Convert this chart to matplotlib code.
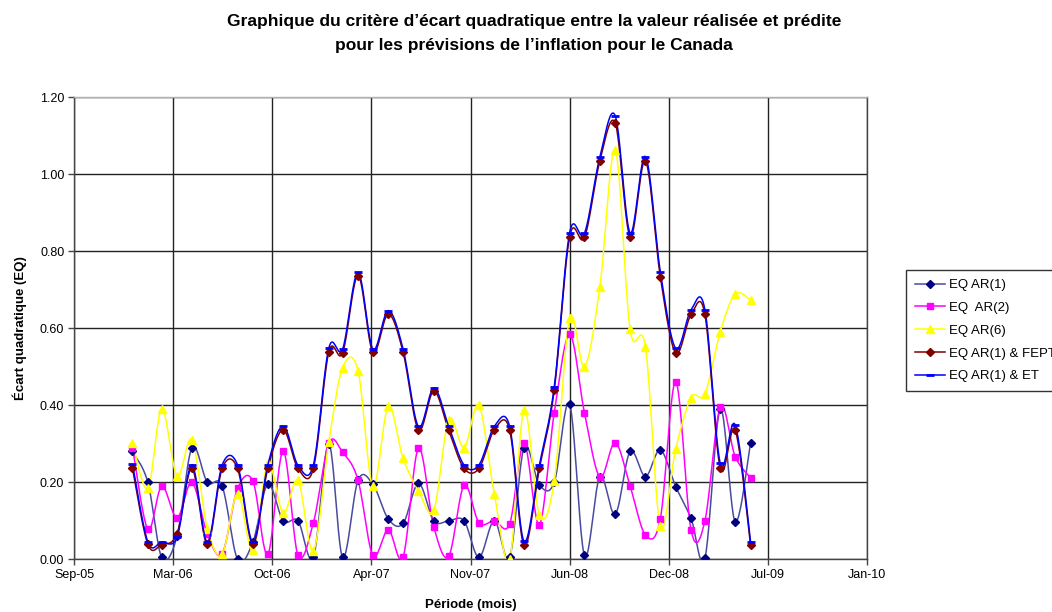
import numpy as np
import pandas as pd
import matplotlib
matplotlib.use("Agg")
import matplotlib.pyplot as plt
import matplotlib.dates as mdates
from matplotlib.lines import Line2D

plt.rcParams['font.family'] = ['Liberation Sans', 'DejaVu Sans']

# ---- data ----
months = pd.date_range('2006-01-01', periods=42, freq='MS')

eq_ar1 = [0.28, 0.20, 0.005, 0.06, 0.29, 0.20, 0.19, 0.00, 0.045, 0.195,
          0.10, 0.10, 0.005, 0.30, 0.005, 0.205, 0.195, 0.105, 0.093, 0.197,
          0.10, 0.10, 0.10, 0.005, 0.10, 0.005, 0.29, 0.193, 0.20, 0.403,
          0.01, 0.215, 0.117, 0.28, 0.215, 0.284, 0.189, 0.106, 0.003, 0.39,
          0.098, 0.303]
eq_ar2 = [0.29, 0.078, 0.19, 0.108, 0.20, 0.066, 0.015, 0.184, 0.203, 0.013,
          0.281, 0.01, 0.095, 0.301, 0.278, 0.206, 0.01, 0.077, 0.006, 0.288,
          0.084, 0.008, 0.192, 0.095, 0.10, 0.092, 0.302, 0.09, 0.381, 0.584,
          0.38, 0.214, 0.303, 0.19, 0.063, 0.105, 0.461, 0.076, 0.10, 0.396,
          0.267, 0.212]
eq_ar6 = [0.303, 0.184, 0.39, 0.216, 0.31, 0.08, 0.014, 0.17, 0.024, 0.25,
          0.12, 0.205, 0.022, 0.305, 0.498, 0.49, 0.19, 0.397, 0.262, 0.178,
          0.129, 0.363, 0.29, 0.40, 0.17, 0.0, 0.388, 0.115, 0.203, 0.626,
          0.50, 0.708, 1.063, 0.597, 0.551, 0.086, 0.286, 0.42, 0.43, 0.591,
          0.689, 0.673]
eq_fept = [0.236, 0.039, 0.038, 0.067, 0.236, 0.039, 0.236, 0.236, 0.039, 0.236,
           0.336, 0.236, 0.236, 0.538, 0.536, 0.737, 0.538, 0.637, 0.538, 0.336,
           0.437, 0.335, 0.236, 0.236, 0.336, 0.336, 0.037, 0.236, 0.44, 0.838,
           0.836, 1.035, 1.133, 0.838, 1.035, 0.734, 0.536, 0.636, 0.636, 0.236,
           0.336, 0.037]
eq_et = [0.247, 0.045, 0.045, 0.058, 0.245, 0.045, 0.245, 0.245, 0.045, 0.245,
         0.346, 0.244, 0.245, 0.548, 0.546, 0.745, 0.546, 0.646, 0.546, 0.345,
         0.445, 0.345, 0.245, 0.245, 0.345, 0.345, 0.047, 0.245, 0.448, 0.848,
         0.847, 1.045, 1.152, 0.848, 1.046, 0.747, 0.548, 0.648, 0.648, 0.249,
         0.349, 0.046]

labels = ['EQ AR(1)', 'EQ  AR(2)', 'EQ AR(6)', 'EQ AR(1) & FEPT', 'EQ AR(1) & ET']
title = ("Graphique du critère d\u2019écart quadratique entre la valeur réalisée et prédite\n"
         "pour les prévisions de l\u2019inflation pour le Canada")

# ---- helpers ----
def smooth(x, y, n=24):
    x = np.asarray(x, float); y = np.asarray(y, float)
    px = np.concatenate([[x[0]], x, [x[-1]]])
    py = np.concatenate([[y[0]], y, [y[-1]]])
    xs, ys = [], []
    t = np.linspace(0, 1, n)
    for i in range(1, len(px) - 2):
        p0x, p1x, p2x, p3x = px[i-1], px[i], px[i+1], px[i+2]
        p0y, p1y, p2y, p3y = py[i-1], py[i], py[i+1], py[i+2]
        c1x = p1x + (p2x - p0x) / 6; c1y = p1y + (p2y - p0y) / 6
        c2x = p2x - (p3x - p1x) / 6; c2y = p2y - (p3y - p1y) / 6
        bx = (1-t)**3*p1x + 3*(1-t)**2*t*c1x + 3*(1-t)*t**2*c2x + t**3*p2x
        by = (1-t)**3*p1y + 3*(1-t)**2*t*c1y + 3*(1-t)*t**2*c2y + t**3*p2y
        xs.append(bx); ys.append(by)
    return np.concatenate(xs), np.concatenate(ys)

fig = plt.figure(figsize=(10.52, 6.12), dpi=100)
ax = fig.add_axes([74/1052, 1-559.3/612, 793/1052, 462/612])

xn = mdates.date2num(months.to_pydatetime())

series = [
    (eq_ar1, '#000080', '#4a4aa0', 'D', 4.5, 2),
    (eq_ar2, '#FF00FF', '#FF00FF', 's', 5, 2),
    (eq_ar6, '#FFFF00', '#FFFF00', '^', 6, 2),
    (eq_fept, '#800000', '#800000', 'D', 4.5, 3),
    (eq_et, '#0000FF', '#0000FF', '_', 6, 4),
]
handles = []
for (vals, mc, lc, mk, ms, z) in series:
    sx, sy = smooth(xn, vals)
    ax.plot(sx, sy, color=lc, lw=1.1, zorder=z, solid_capstyle='butt')
    if mk == '_':
        ax.plot(xn, vals, ls='none', marker=mk, ms=ms, mew=2, color=mc, zorder=z+1)
    else:
        ax.plot(xn, vals, ls='none', marker=mk, ms=ms, mfc=mc, mec=mc, zorder=z+2)
    handles.append(Line2D([], [], color=lc, lw=1.1, marker=mk, ms=ms,
                          mfc=mc, mec=mc, mew=2 if mk == '_' else 1))

start = pd.Timestamp('2005-09-05')
ticks = [start + pd.Timedelta(days=200*k) for k in range(9)]
tnum = mdates.date2num([t.to_pydatetime() for t in ticks])
ax.set_xlim(tnum[0], tnum[-1])
ax.set_xticks(tnum)
ax.xaxis.set_major_formatter(mdates.DateFormatter('%b-%y'))
ax.set_ylim(0, 1.2)
ax.set_yticks(np.arange(0, 1.21, 0.2))
ax.set_yticklabels(['%.2f' % v for v in np.arange(0, 1.21, 0.2)])
ax.grid(True, color='#222222', lw=1)
ax.set_axisbelow(True)
for s in ax.spines.values():
    s.set_color('#444444'); s.set_linewidth(1)
ax.spines['top'].set_color('#b0b0b0')
ax.tick_params(axis='both', direction='out', length=4, width=1, color='#444444',
               labelsize=9, pad=3)

ax.set_ylabel('Écart quadratique (EQ)', fontsize=9.5, fontweight='bold', labelpad=9)
ax.set_xlabel('Période (mois)', fontsize=9.5, fontweight='bold', labelpad=13)
fig.text(534/1052, 1-14/612, title, ha='center', va='top', fontsize=12.5,
         fontweight='bold', linespacing=1.78)

leg = fig.legend(handles, labels, loc='upper left',
                 bbox_to_anchor=(906/1052, 1-270/612), fontsize=9.5,
                 frameon=True, fancybox=False, edgecolor='black',
                 handlelength=2.3, handletextpad=0.3, labelspacing=0.8,
                 borderpad=0.68, borderaxespad=0)
leg.get_frame().set_linewidth(1)

fig.savefig('out.png', dpi=100)
